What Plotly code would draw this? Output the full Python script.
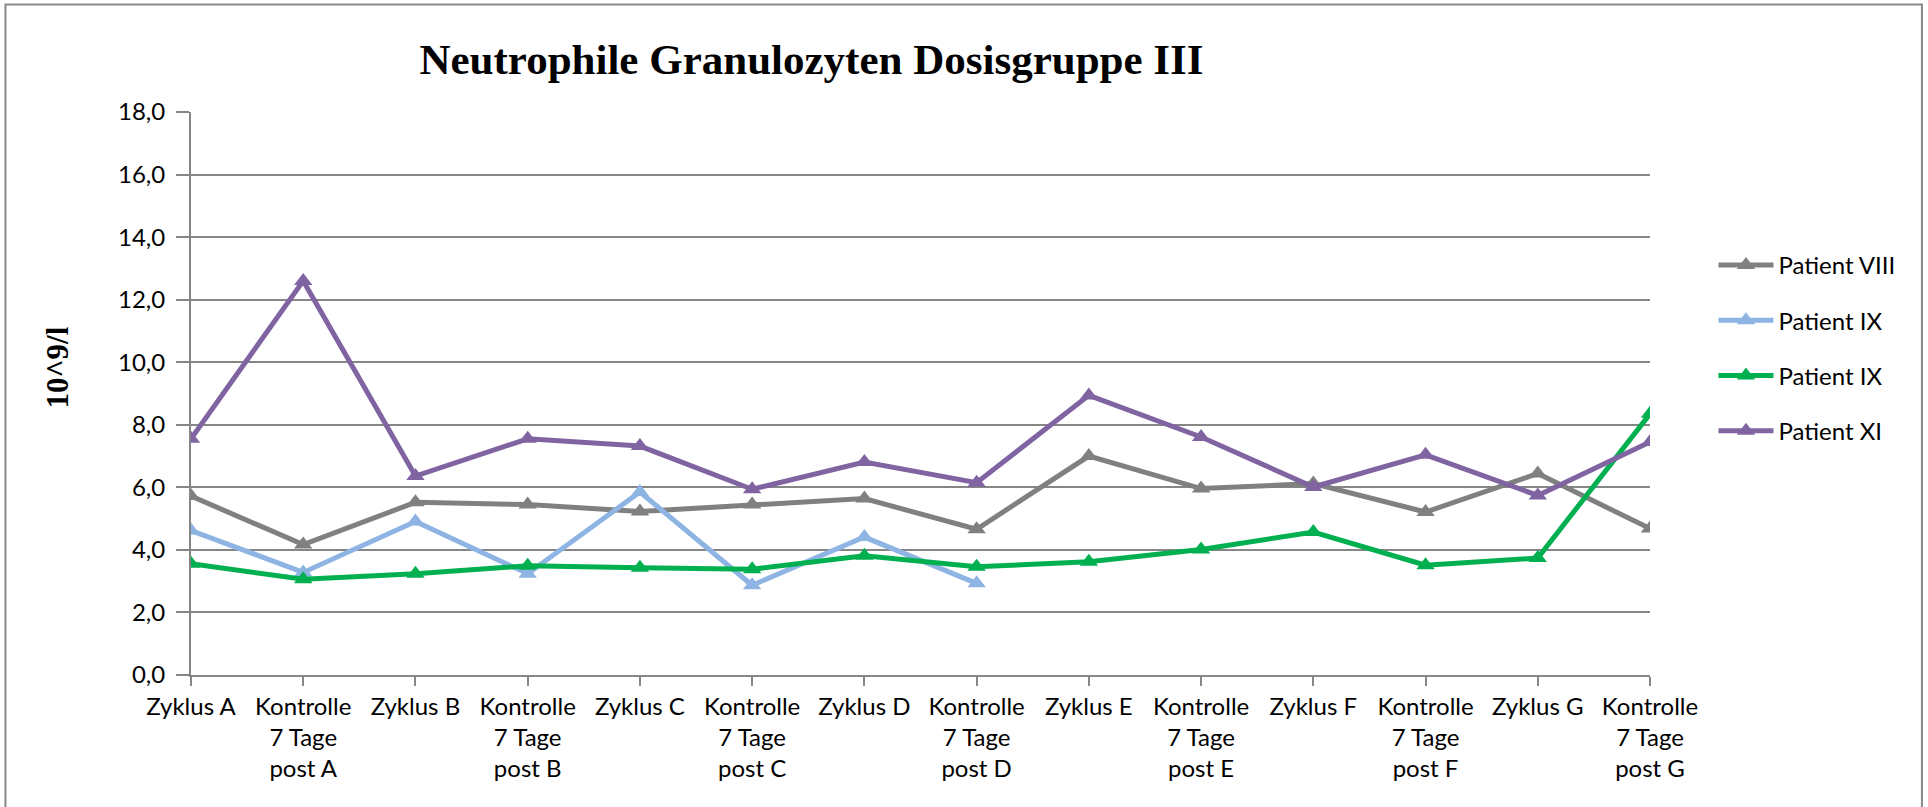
import plotly.graph_objects as go

categories = [
    "Zyklus A", "Kontrolle<br>7 Tage<br>post A",
    "Zyklus B", "Kontrolle<br>7 Tage<br>post B",
    "Zyklus C", "Kontrolle<br>7 Tage<br>post C",
    "Zyklus D", "Kontrolle<br>7 Tage<br>post D",
    "Zyklus E", "Kontrolle<br>7 Tage<br>post E",
    "Zyklus F", "Kontrolle<br>7 Tage<br>post F",
    "Zyklus G", "Kontrolle<br>7 Tage<br>post G",
]

patient_viii = [5.72, 4.17, 5.52, 5.45, 5.23, 5.45, 5.64, 4.66, 7.00, 5.96, 6.12, 5.21, 6.44, 4.68]
patient_ix_a = [4.62, 3.28, 4.91, 3.24, 5.85, 2.87, 4.41, 2.93, None, None, None, None, None, None]
patient_ix_b = [3.56, 3.06, 3.24, 3.49, 3.43, 3.38, 3.81, 3.46, 3.62, 4.01, 4.57, 3.51, 3.74, 8.35]
patient_xi = [7.55, 12.60, 6.36, 7.55, 7.32, 5.94, 6.81, 6.15, 8.94, 7.61, 6.01, 7.04, 5.74, 7.45]

series_names = ["Patient VIII", "Patient IX", "Patient IX", "Patient XI"]
series_values = [patient_viii, patient_ix_a, patient_ix_b, patient_xi]
series_colors = ["#808080", "#8EB4E3", "#00B050", "#8064A2"]

W, H = 1928, 807
L, R, T, B = 190.6, 1650.0, 112.0, 675.0

fig = go.Figure()
for i, (name, vals, col) in enumerate(zip(series_names, series_values, series_colors)):
    fig.add_trace(go.Scatter(
        x=list(range(len(categories))), y=vals, name=name, mode="lines+markers",
        line=dict(color=col, width=5),
        marker=dict(symbol="triangle-up", size=16, color=col),
        legendgroup=f"g{i}", connectgaps=False,
    ))

def px_x(x):
    return (x - L) / (R - L)

def px_y(y):
    return (B - y) / (B - T)

fig.update_layout(
    width=W, height=H,
    margin=dict(l=L, r=W - R, t=T, b=H - B),
    paper_bgcolor="white", plot_bgcolor="white",
    separators=", ",
    font=dict(family="Lato, Calibri, sans-serif", size=24, color="black"),
    title=dict(
        text="<b>Neutrophile Granulozyten Dosisgruppe III</b>",
        font=dict(family="Liberation Serif, Times New Roman, serif", size=43, color="black"),
        x=811.5 / W, xanchor="center", xref="container",
        y=1 - 59 / H, yanchor="middle", yref="container",
    ),
    xaxis=dict(
        range=[0, len(categories) - 1],
        tickmode="array", tickvals=list(range(len(categories))), ticktext=categories,
        showgrid=False, showline=True, linecolor="#868686", linewidth=2,
        ticks="outside", ticklen=9, tickwidth=2, tickcolor="#868686",
        tickfont=dict(size=24), zeroline=False,
    ),
    yaxis=dict(
        range=[0, 18], dtick=2, tick0=0, tickformat=".1f",
        showgrid=True, gridcolor="#868686", gridwidth=2,
        showline=True, linecolor="#868686", linewidth=2,
        ticks="outside", ticklen=13, tickwidth=2, tickcolor="#868686",
        tickfont=dict(size=24), ticklabelstandoff=6, zeroline=False,
    ),
    legend=dict(
        x=px_x(1713.5), xanchor="left", y=px_y(243), yanchor="top",
        traceorder="grouped", tracegroupgap=21,
        font=dict(size=24), itemwidth=55, bgcolor="rgba(0,0,0,0)",
    ),
    showlegend=True,
)

fig.add_annotation(
    text="<b>10^9/l</b>", textangle=-90, showarrow=False,
    xref="paper", yref="paper", x=px_x(57.5), y=px_y(367.5),
    xanchor="center", yanchor="middle",
    font=dict(family="Liberation Serif, Times New Roman, serif", size=31, color="black"),
)

fig.add_shape(
    type="rect", xref="paper", yref="paper",
    x0=px_x(5), x1=px_x(1922), y0=px_y(840), y1=px_y(4.5),
    line=dict(color="#888888", width=2), fillcolor="rgba(0,0,0,0)", layer="below",
)

fig.write_html(
    "out.html",
    config={"displayModeBar": False},
    post_script="document.body.style.margin='0px';document.body.style.overflow='hidden';",
)
